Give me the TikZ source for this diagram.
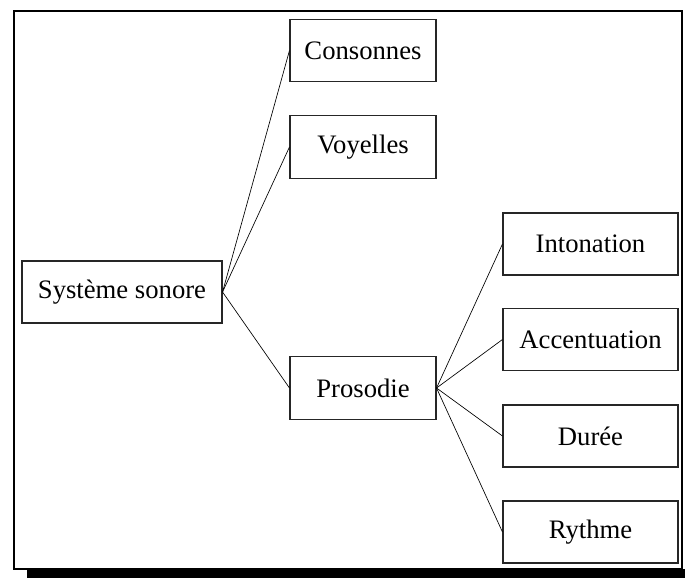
\documentclass[tikz,border=0pt]{standalone}
\usepackage{fontspec}
\setmainfont{Liberation Serif}
\begin{document}
\begin{tikzpicture}[x=0.75pt,y=-0.75pt,
  box/.style={draw=black!85,line width=0.8pt,rectangle,inner sep=0pt,font=\fontsize{20}{24}\selectfont},
  sbox/.style={box,minimum width=109.5pt,minimum height=47pt},
  rbox/.style={box,minimum width=131.25pt,minimum height=46.5pt},
  link/.style={draw=black,line width=0.5pt}]
\useasboundingbox (0,0) rectangle (685,578);
\fill[white] (0,0) rectangle (685,578);
% frame with shadow
\fill[black] (27,569) rectangle (685,578);
\draw[line width=1.6pt] (14,11) rectangle (682,569);
% nodes
\node[box,minimum width=150pt,minimum height=46.5pt] (sys) at (122,292) {Système sonore};
\node[sbox] (cons) at (363,50.5) {Consonnes};
\node[sbox] (voy) at (363,147) {Voyelles};
\node[sbox] (pros) at (363,388) {Prosodie};
\node[rbox] (int) at (590.5,244) {Intonation};
\node[rbox] (acc) at (590.5,339.5) {Accentuation};
\node[rbox] (dur) at (590.5,436) {Durée};
\node[rbox] (ryt) at (590.5,532) {Rythme};
% connectors
\draw[link] (sys.east) -- (cons.west);
\draw[link] (sys.east) -- (voy.west);
\draw[link] (sys.east) -- (pros.west);
\draw[link] (pros.east) -- (int.west);
\draw[link] (pros.east) -- (acc.west);
\draw[link] (pros.east) -- (dur.west);
\draw[link] (pros.east) -- (ryt.west);
\end{tikzpicture}
\end{document}
